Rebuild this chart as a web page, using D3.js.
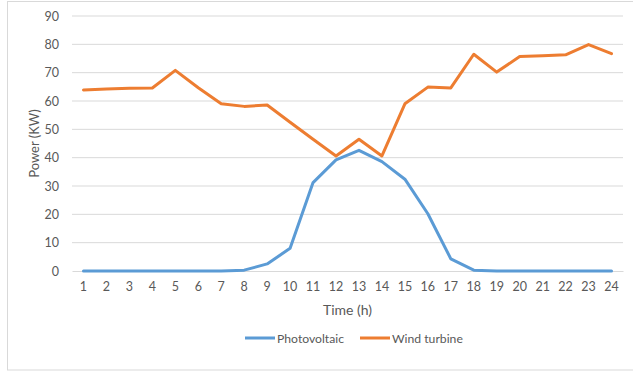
<!DOCTYPE html>
<html><head><meta charset="utf-8">
<script src="https://cdn.jsdelivr.net/npm/d3@7"></script>
<style>
body{margin:0;background:#fff;}
text{font-family:Lato,"Open Sans",sans-serif;fill:#595959;}
</style></head>
<body><svg id="chart" width="633" height="373"></svg>
<script>
const hours = ["1","2","3","4","5","6","7","8","9","10","11","12","13","14","15","16","17","18","19","20","21","22","23","24"];
const photovoltaic = [0,0,0,0,0,0,0,0.3,2.5,8,31.2,39.2,42.6,38.6,32.4,20.2,4.3,0.3,0,0,0,0,0,0];
const windTurbine = [63.9,64.2,64.5,64.6,70.8,64.7,59,58.1,58.6,52.5,46.5,40.6,46.5,40.6,59,64.9,64.6,76.5,70.2,75.7,76,76.3,79.9,76.7];
const yTicks = [0,10,20,30,40,50,60,70,80,90];
const seriesNames = ["Photovoltaic","Wind turbine"];
const colors = ["#5b9bd5","#ed7d31"];

const svg = d3.select("#chart");
svg.append("rect").attr("x",7.5).attr("y",1.5).attr("width",640).attr("height",368.5)
  .attr("fill","#fff").attr("stroke","#d9d9d9");

const mLeft=72, mRight=623, mTop=16, mBottom=271;
const x = d3.scaleBand().domain(hours).range([mLeft,mRight]);
const y = d3.scaleLinear().domain([0,90]).range([mBottom,mTop]);

// gridlines
svg.append("g").selectAll("line").data(yTicks.filter(d=>d>0)).join("line")
  .attr("x1",mLeft).attr("x2",mRight).attr("y1",d=>y(d)).attr("y2",d=>y(d))
  .attr("stroke","#d9d9d9").attr("stroke-width",1);

// y axis
const ya = svg.append("g").attr("transform",`translate(${mLeft},0)`)
  .call(d3.axisLeft(y).tickValues(yTicks).tickSize(0).tickPadding(13));
ya.select(".domain").remove();
ya.selectAll("text").attr("font-size",12.5).attr("font-family","Lato,'Open Sans',sans-serif").attr("fill","#595959");

// x axis
const xa = svg.append("g").attr("transform",`translate(0,${mBottom})`)
  .call(d3.axisBottom(x).tickSize(0).tickPadding(11));
xa.select(".domain").attr("stroke","#d9d9d9").attr("stroke-width",1.2);
xa.selectAll("text").attr("font-size",12.5).attr("font-family","Lato,'Open Sans',sans-serif").attr("fill","#595959");

// titles
svg.append("text").attr("x",(mLeft+mRight)/2).attr("y",315).attr("text-anchor","middle")
  .attr("font-size",14).text("Time (h)");
svg.append("text").attr("transform",`translate(39,${(mTop+mBottom)/2}) rotate(-90)`)
  .attr("text-anchor","middle").attr("font-size",13).text("Power (KW)");

// lines
const line = d3.line().x((d,i)=>x(hours[i])+x.bandwidth()/2).y(d=>y(d));
[photovoltaic, windTurbine].forEach((s,k)=>{
  svg.append("path").datum(s).attr("d",line).attr("fill","none")
    .attr("stroke",colors[k]).attr("stroke-width",3).attr("stroke-linejoin","round").attr("stroke-linecap","round");
});

// legend
const legX = [245,360];
seriesNames.forEach((n,k)=>{
  const g = svg.append("g").attr("transform",`translate(${legX[k]},338)`);
  g.append("line").attr("x1",0).attr("x2",30).attr("stroke",colors[k]).attr("stroke-width",3);
  g.append("text").attr("x",32).attr("y",4.5).attr("font-size",12.2).text(n);
});
</script></body></html>
